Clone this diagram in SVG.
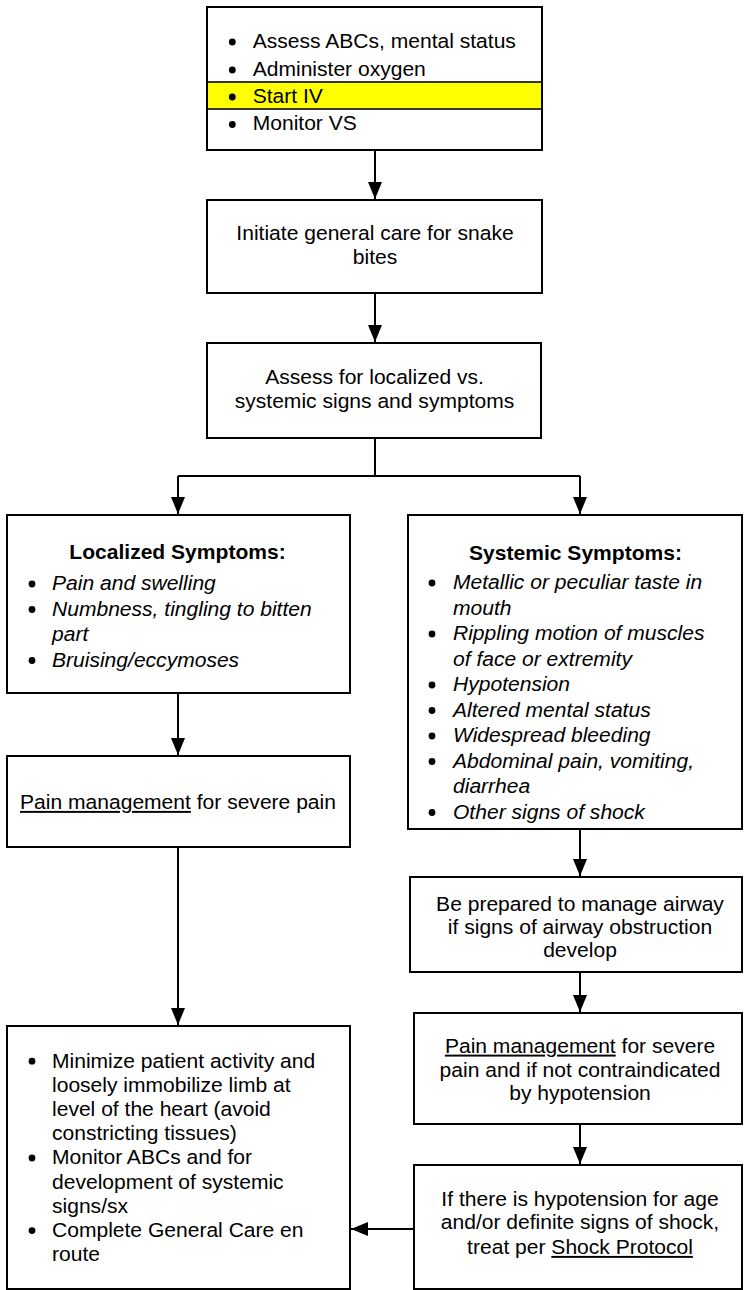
<svg xmlns="http://www.w3.org/2000/svg" width="744" height="1290" viewBox="0 0 744 1290">
<style>
.bg{fill:#fff}
.box{fill:#fff;stroke:#000;stroke-width:2}
.hl{fill:#ffff00;stroke:#222;stroke-width:1.8}
.t{font-family:"Liberation Sans",Arial,Helvetica,sans-serif;font-size:19.5px;fill:#000}
.dot{fill:#000}
.c{text-anchor:middle}
.i{font-style:italic}
.b{font-weight:bold}
.u{text-decoration:underline}
.con{fill:none;stroke:#000;stroke-width:2}
</style>
<defs>
<marker id="ah" markerUnits="userSpaceOnUse" markerWidth="17" markerHeight="14" refX="17" refY="7" orient="auto">
<path d="M0,0 L17,7 L0,14 z" fill="#000"/>
</marker>
<circle id="bul" r="3.4"/>
</defs>
<rect class="bg" x="0" y="0" width="744" height="1290"/>

<g id="connectors">
<path class="con" d="M375,150 V199" marker-end="url(#ah)"/>
<path class="con" d="M375,293 V342" marker-end="url(#ah)"/>
<path class="con" d="M375,438 V476 M178,476 H580"/>
<path class="con" d="M178,476 V514" marker-end="url(#ah)"/>
<path class="con" d="M580,476 V514" marker-end="url(#ah)"/>
<path class="con" d="M178,693 V755" marker-end="url(#ah)"/>
<path class="con" d="M178,847 V1025" marker-end="url(#ah)"/>
<path class="con" d="M580,829 V876" marker-end="url(#ah)"/>
<path class="con" d="M580,972 V1012" marker-end="url(#ah)"/>
<path class="con" d="M580,1124 V1164" marker-end="url(#ah)"/>
<path class="con" d="M414,1229 H351" marker-end="url(#ah)"/>
</g>

<g id="n1">
<rect class="box" x="207" y="7" width="335" height="143"/>
<rect class="hl" x="207" y="82" width="335" height="27"/>
<rect x="207" y="7" width="335" height="143" fill="none" stroke="#000" stroke-width="2"/>
<g class="dot"><use href="#bul" x="232.3" y="42"/><use href="#bul" x="232.3" y="70"/><use href="#bul" x="232.3" y="97"/><use href="#bul" x="232.3" y="124.5"/></g>
<text class="t" transform="matrix(1.08 0 0 1 252.7 0)"><tspan x="0" y="48">Assess ABCs, mental status</tspan><tspan x="0" y="76">Administer oxygen</tspan><tspan x="0" y="103">Start IV</tspan><tspan x="0" y="130.5">Monitor VS</tspan></text>
</g>

<g id="n2">
<rect class="box" x="207" y="200" width="335" height="93"/>
<text class="t c" transform="matrix(1.08 0 0 1 375 0)"><tspan x="0" y="240">Initiate general care for snake</tspan><tspan x="0" y="264">bites</tspan></text>
</g>

<g id="n3">
<rect class="box" x="207" y="343" width="334" height="95"/>
<text class="t c" transform="matrix(1.08 0 0 1 374.5 0)"><tspan x="0" y="384">Assess for localized vs.</tspan><tspan x="0" y="408.3">systemic signs and symptoms</tspan></text>
</g>

<g id="n4">
<rect class="box" x="7" y="515" width="343" height="178"/>
<text class="t b c" transform="matrix(1.08 0 0 1 177.5 0)"><tspan x="0" y="559">Localized Symptoms:</tspan></text>
<g class="dot"><use href="#bul" x="32" y="584"/><use href="#bul" x="32" y="609.5"/><use href="#bul" x="32" y="660.5"/></g>
<text class="t i" transform="matrix(1.08 0 0 1 52 0)"><tspan x="0" y="590.5">Pain and swelling</tspan><tspan x="0" y="616">Numbness, tingling to bitten</tspan><tspan x="0" y="641.5">part</tspan><tspan x="0" y="667">Bruising/eccymoses</tspan></text>
</g>

<g id="n5">
<rect class="box" x="408" y="515" width="334" height="314"/>
<text class="t b c" transform="matrix(1.08 0 0 1 575.5 0)"><tspan x="0" y="560">Systemic Symptoms:</tspan></text>
<g class="dot"><use href="#bul" x="432" y="583"/><use href="#bul" x="432" y="634"/><use href="#bul" x="432" y="685"/><use href="#bul" x="432" y="710.5"/><use href="#bul" x="432" y="736"/><use href="#bul" x="432" y="761.5"/><use href="#bul" x="432" y="812.5"/></g>
<text class="t i" transform="matrix(1.08 0 0 1 453 0)"><tspan x="0" y="589.5">Metallic or peculiar taste in</tspan><tspan x="0" y="615">mouth</tspan><tspan x="0" y="640.5">Rippling motion of muscles</tspan><tspan x="0" y="666">of face or extremity</tspan><tspan x="0" y="691.5">Hypotension</tspan><tspan x="0" y="717">Altered mental status</tspan><tspan x="0" y="742.5">Widespread bleeding</tspan><tspan x="0" y="768">Abdominal pain, vomiting,</tspan><tspan x="0" y="793.5">diarrhea</tspan><tspan x="0" y="819">Other signs of shock</tspan></text>
</g>

<g id="n6">
<rect class="box" x="7" y="756" width="343" height="91"/>
<text class="t c" transform="matrix(1.08 0 0 1 178 0)"><tspan x="0" y="809"><tspan class="u">Pain management</tspan> for severe pain</tspan></text>
</g>

<g id="n7">
<rect class="box" x="410" y="877" width="332" height="95"/>
<text class="t c" transform="matrix(1.08 0 0 1 580 0)"><tspan x="0" y="910.7">Be prepared to manage airway</tspan><tspan x="0" y="934">if signs of airway obstruction</tspan><tspan x="0" y="956.7">develop</tspan></text>
</g>

<g id="n8">
<rect class="box" x="414" y="1013" width="328" height="111"/>
<text class="t c" transform="matrix(1.08 0 0 1 580 0)"><tspan x="0" y="1052.7"><tspan class="u">Pain management</tspan> for severe</tspan><tspan x="0" y="1076.7">pain and if not contraindicated</tspan><tspan x="0" y="1100">by hypotension</tspan></text>
</g>

<g id="n9">
<rect class="box" x="414" y="1165" width="328" height="124"/>
<text class="t c" transform="matrix(1.08 0 0 1 580 0)"><tspan x="0" y="1205.7">If there is hypotension for age</tspan><tspan x="0" y="1229.3">and/or definite signs of shock,</tspan><tspan x="0" y="1254">treat per <tspan class="u">Shock Protocol</tspan></tspan></text>
</g>

<g id="n10">
<rect class="box" x="7" y="1026" width="343" height="263"/>
<g class="dot"><use href="#bul" x="32" y="1061.2"/><use href="#bul" x="32" y="1158"/><use href="#bul" x="32" y="1230.6"/></g>
<text class="t" transform="matrix(1.08 0 0 1 52 0)"><tspan x="0" y="1067.7">Minimize patient activity and</tspan><tspan x="0" y="1091.9">loosely immobilize limb at</tspan><tspan x="0" y="1116.1">level of the heart (avoid</tspan><tspan x="0" y="1140.3">constricting tissues)</tspan><tspan x="0" y="1164.5">Monitor ABCs and for</tspan><tspan x="0" y="1188.7">development of systemic</tspan><tspan x="0" y="1212.9">signs/sx</tspan><tspan x="0" y="1237.1">Complete General Care en</tspan><tspan x="0" y="1261.3">route</tspan></text>
</g>
</svg>
